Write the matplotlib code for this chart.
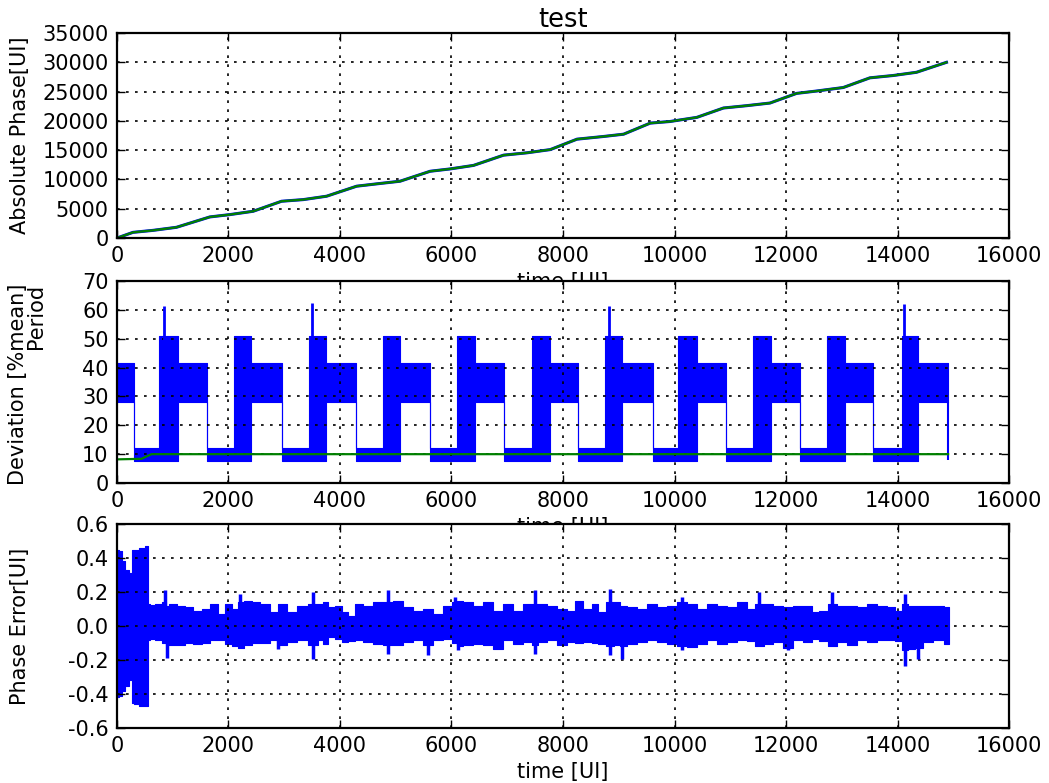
import numpy as np
import matplotlib.pyplot as plt

# absolute phase [UI] vs time [UI]
abs_t = [0, 287, 647, 1066, 1665, 2024, 2443, 2952, 3341, 3760, 4299, 4659,
         5078, 5617, 5976, 6395, 6934, 7353, 7772, 8251, 8728, 9087, 9564,
         9922, 10400, 10878, 11296, 11713, 12191, 12549, 13027, 13504, 13922,
         14340, 14878]
abs_v = [0, 970, 1310, 1830, 3600, 4000, 4570, 6280, 6560, 7140, 8850, 9250,
         9700, 11400, 11800, 12400, 14150, 14550, 15100, 16880, 17340, 17730,
         19620, 19900, 20600, 22200, 22600, 23050, 24700, 25100, 25700, 27350,
         27750, 28300, 30000]

# period deviation: blocks of the dense blue trace (edges, lower and upper bound)
per_edges = [0, 305, 760, 1096, 1617, 2100, 2413, 2952, 3440, 3749, 4287,
             4770, 5078, 5617, 6100, 6425, 6946, 7440, 7772, 8269, 8755, 9057,
             9606, 10070, 10400, 10919, 11400, 11725, 12251, 12728, 13057,
             13564, 14072, 14370, 14907]
per_lo = [28, 7.5, 7.5, 28, 7.5, 7.5, 28, 7.5, 7.5, 28, 7.5, 7.5, 28, 7.5,
          7.5, 28, 7.5, 7.5, 28, 7.5, 7.5, 28, 7.5, 7.5, 28, 7.5, 7.5, 28,
          7.5, 7.5, 28, 7.5, 7.5, 28]
per_hi = [41.5, 12, 51, 41.5, 12, 51, 41.5, 12, 51, 41.5, 12, 51, 41.5, 12,
          51, 41.5, 12, 51, 41.5, 12, 51, 41.5, 12, 51, 41.5, 12, 51, 41.5,
          12, 51, 41.5, 12, 51, 41.5]
per_spike_t = [844, 3503, 8830, 14119]
per_spike_v = [61.5, 62.5, 61.5, 62]
# green mean line
mean_t = [0, 440, 620, 14907]
mean_v = [8.2, 8.4, 10, 10]

# phase error envelope
err_t = [0, 60, 120, 180, 240, 265, 275, 350, 450, 540, 555, 575,
         622, 741, 861, 891, 981, 1160, 1280, 1459, 1579, 1758, 1878, 1997,
         2117, 2207, 2356, 2476, 2655, 2834, 2954, 3133, 3313, 3522, 3672,
         3732, 3852, 3971, 4091, 4210, 4330, 4509, 4689, 4868, 5048, 5227,
         5406, 5586, 5765, 5945, 6064, 6124, 6303, 6483, 6662, 6842, 7021,
         7200, 7380, 7499, 7619, 7798, 7977, 8157, 8276, 8456, 8575, 8695,
         8845, 8994, 9066, 9233, 9413, 9592, 9771, 9951, 10130, 10310, 10489,
         10668, 10848, 11027, 11207, 11386, 11517, 11685, 11864, 12043, 12223,
         12402, 12522, 12671, 12833, 13000, 13180, 13359, 13538, 13718, 13897,
         14017, 14136, 14256, 14376, 14555, 14734, 14926]
err_hi = [0.45, 0.44, 0.38, 0.33, 0.31, 0.31, 0.45, 0.45, 0.46, 0.47, 0.47, 0.13,
          0.125, 0.13, 0.14, 0.12, 0.13, 0.12, 0.11, 0.09, 0.10, 0.13, 0.07, 0.13,
          0.10, 0.14, 0.15, 0.14, 0.13, 0.08, 0.13, 0.08, 0.12, 0.13, 0.13,
          0.14, 0.11, 0.12, 0.08, 0.06, 0.13, 0.12, 0.14, 0.14, 0.15, 0.11,
          0.09, 0.10, 0.07, 0.12, 0.14, 0.15, 0.14, 0.12, 0.14, 0.09, 0.13,
          0.09, 0.13, 0.13, 0.13, 0.12, 0.10, 0.09, 0.15, 0.10, 0.13, 0.08,
          0.14, 0.14, 0.12, 0.11, 0.10, 0.13, 0.11, 0.12, 0.14, 0.13, 0.10,
          0.13, 0.12, 0.11, 0.14, 0.10, 0.13, 0.13, 0.12, 0.11, 0.12,
          0.12, 0.08, 0.09, 0.13, 0.12, 0.12, 0.11, 0.13, 0.12, 0.11,
          0.09, 0.13, 0.12, 0.12, 0.12, 0.12, 0.11]
err_lo = [-0.42, -0.41, -0.38, -0.35, -0.32, -0.32, -0.45, -0.46, -0.47, -0.47, -0.47, -0.08,
          -0.075, -0.084, -0.10, -0.11, -0.114, -0.114, -0.10, -0.104, -0.10, -0.084, -0.084, -0.104,
          -0.12, -0.13, -0.114, -0.10, -0.10, -0.084, -0.11, -0.094, -0.084, -0.11, -0.084,
          -0.104, -0.065, -0.075, -0.094, -0.09, -0.084, -0.094, -0.104, -0.11, -0.114, -0.094,
          -0.084, -0.11, -0.084, -0.075, -0.10, -0.12, -0.114, -0.104, -0.114, -0.133, -0.084,
          -0.104, -0.094, -0.11, -0.094, -0.084, -0.114, -0.094, -0.10, -0.094, -0.10, -0.104,
          -0.12, -0.11, -0.12, -0.104, -0.094, -0.084, -0.094, -0.104, -0.12, -0.124, -0.104,
          -0.084, -0.104, -0.094, -0.084, -0.09, -0.12, -0.104, -0.094, -0.13, -0.084,
          -0.094, -0.075, -0.09, -0.12, -0.094, -0.114, -0.084, -0.094, -0.084, -0.084,
          -0.09, -0.14, -0.133, -0.13, -0.094, -0.084, -0.104]
up_spike_t = [861, 2207, 3522, 4868, 6064, 7499, 8845, 10130, 11517, 12833, 14136]
up_spike_v = [0.21, 0.19, 0.20, 0.21, 0.17, 0.21, 0.22, 0.17, 0.20, 0.20, 0.19]
dn_spike_t = [891, 2894, 3522, 4868, 5586, 6124, 7499, 8845, 9066, 10130, 12043, 14136, 14376]
dn_spike_v = [-0.19, -0.133, -0.192, -0.163, -0.173, -0.143, -0.163, -0.173, -0.192,
              -0.143, -0.143, -0.235, -0.192]

plt.rcParams['axes.unicode_minus'] = False
plt.rcParams['font.size'] = 15

fig = plt.figure(figsize=(10.49, 7.83), dpi=100)
ax1 = fig.add_axes([0.1115, 0.696, 0.8504, 0.2618])
ax2 = fig.add_axes([0.1115, 0.3831, 0.8504, 0.258])
ax3 = fig.add_axes([0.1115, 0.0702, 0.8504, 0.2605])

ax1.plot(abs_t, abs_v, color='b', lw=2.2)
ax1.plot(abs_t, abs_v, color='#008000', lw=1.7)
ax1.set_ylim(0, 35000)
ax1.set_yticks(np.arange(0, 35001, 5000))
ax1.set_ylabel('Absolute Phase[UI]')
ax1.set_title('test', fontsize=18.5, pad=4)

# period deviation blocks
xs, lo, hi = [], [], []
for i in range(len(per_lo)):
    xs += [per_edges[i], per_edges[i + 1]]
    lo += [per_lo[i], per_lo[i]]
    hi += [per_hi[i], per_hi[i]]
ax2.fill_between(xs, lo, hi, color='b', lw=0.8, edgecolor='b')
ax2.vlines(per_spike_t, 45, per_spike_v, color='b', lw=2)
ax2.vlines(per_edges[-1], 8, 28, color='b', lw=1.5)
ax2.plot(mean_t, mean_v, color='#008000', lw=1.6)
ax2.set_ylim(0, 70)
ax2.set_yticks(np.arange(0, 71, 10))
ax2.text(-0.100, 0.985, 'Deviation [%mean]', rotation=90, ha='right', va='top',
         transform=ax2.transAxes)
ax2.text(-0.079, 0.985, 'Period', rotation=90, ha='right', va='top',
         transform=ax2.transAxes)

ax3.fill_between(err_t, err_lo, err_hi, step='mid', color='b', lw=0.8, edgecolor='b')
ax3.vlines(up_spike_t, 0.05, up_spike_v, color='b', lw=2.5)
ax3.vlines(dn_spike_t, dn_spike_v, -0.05, color='b', lw=2.5)
ax3.set_ylim(-0.6, 0.6)
ax3.set_yticks(np.arange(-0.6, 0.61, 0.2))
ax3.set_ylabel('Phase Error[UI]')

for ax in (ax1, ax2, ax3):
    ax.set_xlim(0, 16000)
    ax.set_xticks(np.arange(0, 16001, 2000))
    ax.set_xlabel('time [UI]', labelpad=4)
    ax.grid(True, color='k', linestyle=(0, (1.6, 3.8)), lw=1.2)
    ax.tick_params(direction='in', length=6, width=1, top=True, right=True, pad=6)
    for s in ax.spines.values():
        s.set_linewidth(1.6)
ax1.yaxis.set_label_coords(-0.0975, 0.5)
ax3.yaxis.set_label_coords(-0.0975, 0.5)

fig.savefig('out.png', dpi=100)
